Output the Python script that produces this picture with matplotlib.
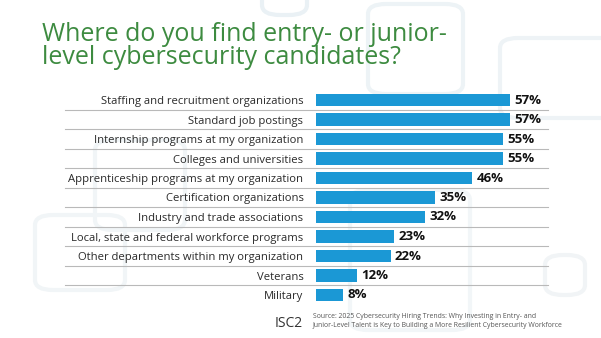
import matplotlib
matplotlib.use("Agg")
import matplotlib.pyplot as plt
from matplotlib.patches import FancyBboxPatch

categories = [
    "Staffing and recruitment organizations",
    "Standard job postings",
    "Internship programs at my organization",
    "Colleges and universities",
    "Apprenticeship programs at my organization",
    "Certification organizations",
    "Industry and trade associations",
    "Local, state and federal workforce programs",
    "Other departments within my organization",
    "Veterans",
    "Military",
]
values = [57, 57, 55, 55, 46, 35, 32, 23, 22, 12, 8]
value_labels = [f"{v}%" for v in values]

title_lines = ["Where do you find entry- or junior-",
               "level cybersecurity candidates?"]
source_lines = ["Source: 2025 Cybersecurity Hiring Trends: Why Investing in Entry- and",
                "Junior-Level Talent is Key to Building a More Resilient Cybersecurity Workforce"]

FONT = "Open Sans"
W, H = 601, 338
fig = plt.figure(figsize=(W / 100, H / 100), dpi=100)
fig.patch.set_facecolor("white")

# faint decorative rounded squares in the background
deco = [
    (262, -30, 45, 45, "#eaf1f5"),
    (368, 4, 95, 90, "#edf3f6"),
    (500, 38, 130, 80, "#eef3f6"),
    (35, 215, 90, 75, "#f1f5f7"),
    (95, 140, 90, 90, "#f1f5f7"),
    (350, 190, 120, 140, "#f2f6f8"),
    (545, 255, 40, 40, "#f1f4f6"),
]
for x, y, w, h, c in deco:
    p = FancyBboxPatch((x / W, 1 - (y + h) / H), w / W, h / H,
                       boxstyle="round,pad=0,rounding_size=0.03",
                       transform=fig.transFigure, fill=False,
                       edgecolor=c, linewidth=3, zorder=-5)
    fig.patches.append(p)

# axes placement in pixels
x0, x1 = 316, 554
row_h = 19.5
top = 100 - row_h / 2
n = len(categories)
bottom = top + n * row_h
ax = fig.add_axes([x0 / W, 1 - bottom / H, (x1 - x0) / W, n * row_h / H])
ax.set_facecolor("none")
ax.set_zorder(2)

ypos = list(range(n))
ax.barh(ypos, values, height=0.64, color="#1b98d5", zorder=3)
ax.set_xlim(0, 70)
ax.set_ylim(n - 0.5, -0.5)

for y, v, lab in zip(ypos, values, value_labels):
    ax.annotate(lab, (v, y), xytext=(3, 0), textcoords="offset points",
                va="center", ha="left", fontsize=9.5, fontweight="bold",
                family=FONT, color="#111111")

ax.set_yticks(ypos)
ax.set_yticklabels(categories, family=FONT, fontsize=8.15, color="#2a2a2a")
ax.tick_params(axis="y", length=0, pad=9)
ax.set_xticks([])
for s in ax.spines.values():
    s.set_visible(False)

# separators between rows
tr = ax.get_yaxis_transform()
lx0 = (65 - x0) / (x1 - x0)
lx1 = (548 - x0) / (x1 - x0)
for k in range(n - 1):
    ax.plot([lx0, lx1], [k + 0.5, k + 0.5], transform=tr, color="#b9b9b9",
            linewidth=0.8, clip_on=False, zorder=1)

# title
fig.text(42 / W, 1 - 41 / H, title_lines[0], family=FONT, fontsize=18,
         color="#3d8b40", va="baseline", ha="left")
fig.text(42 / W, 1 - 64.5 / H, title_lines[1], family=FONT, fontsize=18,
         color="#3d8b40", va="baseline", ha="left")

# footer
fig.text(275 / W, 1 - 327 / H, "ISC2", family=FONT, fontsize=10,
         color="#333333", va="baseline", ha="left")
fig.text(313 / W, 1 - 318 / H, source_lines[0], family=FONT, fontsize=4.95,
         color="#555555", va="baseline", ha="left")
fig.text(313 / W, 1 - 327 / H, source_lines[1], family=FONT, fontsize=4.95,
         color="#555555", va="baseline", ha="left")

fig.savefig("out.png", dpi=100)
